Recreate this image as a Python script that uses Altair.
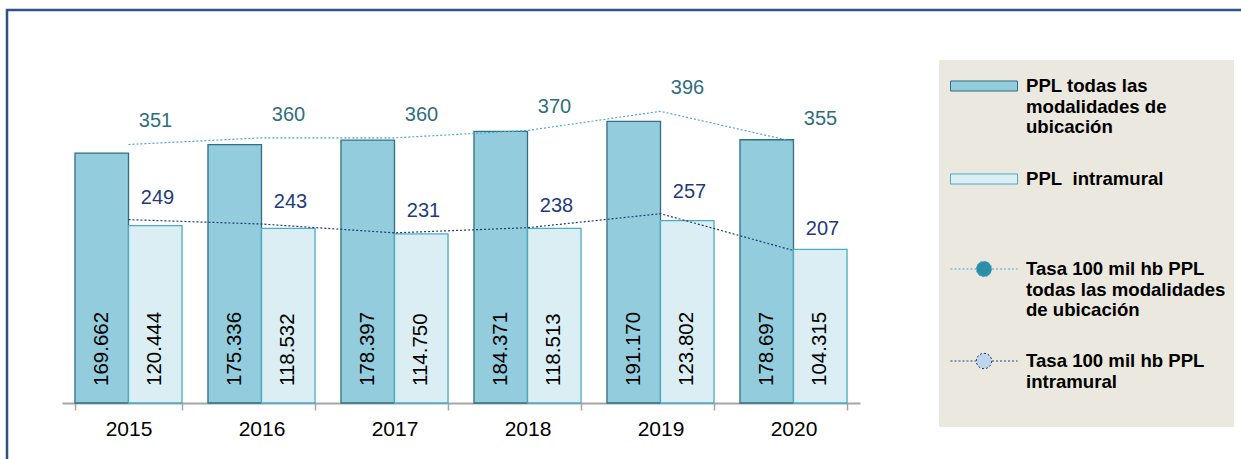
import altair as alt
import pandas as pd

# ---- data ----
anios = ["2015", "2016", "2017", "2018", "2019", "2020"]
ppl_total = [169662, 175336, 178397, 184371, 191170, 178697]
ppl_intramural = [120444, 118532, 114750, 118513, 123802, 104315]
tasa_total = [351, 360, 360, 370, 396, 355]
tasa_intramural = [249, 243, 231, 238, 257, 207]

bar_keys = ["total", "intramural"]
tasa_keys = ["tasa_total", "tasa_intramural"]

FONT = "Liberation Sans"
NB = "\u00a0"

bars_df = pd.DataFrame(
    {
        "anio": anios * 2,
        "serie": ["total"] * len(anios) + ["intramural"] * len(anios),
        "valor": ppl_total + ppl_intramural,
    }
)
tasa_df = pd.DataFrame(
    {
        "anio": anios * 2,
        "serie": ["tasa_total"] * len(anios) + ["tasa_intramural"] * len(anios),
        "tasa": tasa_total + tasa_intramural,
    }
)
one = pd.DataFrame({"k": [0]})

x_enc = alt.X(
    "anio:N",
    sort=anios,
    title=None,
    scale=alt.Scale(paddingInner=0.195, paddingOuter=0.0975),
    axis=alt.Axis(
        labelAngle=0,
        tickBand="extent",
        labelFont=FONT,
        labelFontSize=21,
        labelColor="#000000",
        labelPadding=8,
        domainColor="#A6A6A6",
        domainWidth=2,
        tickColor="#A6A6A6",
        tickWidth=1.5,
        tickSize=7,
        grid=False,
    ),
)
xoff = alt.XOffset("serie:N", sort=bar_keys, scale=alt.Scale(domain=bar_keys, paddingInner=0, paddingOuter=0))
ybar_scale = alt.Scale(domain=[0, 260000])
ytasa_scale = alt.Scale(domain=[0, 520])

bar_legend_labels = (
    "datum.value == 'total' ? ['PPL todas las', 'modalidades de', 'ubicación']"
    f" : ['PPL{NB} intramural']"
)
tasa_legend_labels = (
    "datum.value == 'tasa_total' ? ['Tasa 100 mil hb PPL', 'todas las modalidades', 'de ubicación']"
    f" : ['Tasa 100 mil hb PPL', 'intramural', '{NB}']"
)

legend_bg = alt.Chart(one).mark_rect(fill="#EBE8DF").encode(
    x=alt.value(877), x2=alt.value(1172), y=alt.value(40), y2=alt.value(407)
)

bars = alt.Chart(bars_df).mark_bar(strokeWidth=1.3).encode(
    x=x_enc,
    xOffset=xoff,
    y=alt.Y("valor:Q", scale=ybar_scale, axis=None),
    fill=alt.Fill(
        "serie:N",
        scale=alt.Scale(domain=bar_keys, range=["#93CDDD", "#DAEEF3"]),
        legend=alt.Legend(
            orient="none",
            legendX=888,
            legendY=32,
            title=None,
            padding=0,
            symbolType="M-1,-0.15H1V0.15H-1Z",
            symbolSize=4489,
            symbolStrokeWidth=1,
            symbolStrokeColor={"expr": "datum.value == 'total' ? '#31707F' : '#4BACC6'"},
            labelExpr=bar_legend_labels,
            labelFont=FONT,
            labelFontSize=18.6,
            labelFontWeight="bold",
            labelColor="#000000",
            labelLimit=400,
            labelOffset=8,
            rowPadding=8,
        ),
    ),
    stroke=alt.condition("datum.serie == 'total'", alt.value("#31707F"), alt.value("#4BACC6")),
)

bar_text = alt.Chart(bars_df).transform_calculate(
    etiqueta="replace(format(datum.valor, ','), /,/g, '.')", cero="0"
).mark_text(
    angle=270, align="left", baseline="middle", dx=17, font=FONT, fontSize=20.5, color="#000000"
).encode(
    x=x_enc,
    xOffset=xoff,
    y=alt.Y("cero:Q", scale=ybar_scale, axis=None),
    text="etiqueta:N",
)

lines = alt.Chart(tasa_df).mark_line(strokeWidth=1.2, strokeDash=[2, 2]).encode(
    x=x_enc,
    y=alt.Y("tasa:Q", scale=ytasa_scale, axis=None),
    stroke=alt.Stroke(
        "serie:N",
        scale=alt.Scale(domain=tasa_keys, range=["#4BACC6", "#1F3B7A"]),
        legend=alt.Legend(
            orient="none",
            legendX=888,
            legendY=215,
            title=None,
            padding=0,
            symbolType="M-1,0H-0.24M0.24,0H1M0.23,0A0.23,0.23,0,1,1,-0.23,0A0.23,0.23,0,1,1,0.23,0Z",
            symbolSize=4489,
            symbolStrokeWidth=1,
            symbolDash=[2, 2],
            symbolFillColor={"expr": "datum.value == 'tasa_total' ? '#2B8FAA' : '#BFD5EE'"},
            labelExpr=tasa_legend_labels,
            labelFont=FONT,
            labelFontSize=18.6,
            labelFontWeight="bold",
            labelColor="#000000",
            labelLimit=400,
            labelOffset=8,
            rowPadding=7,
        ),
    ),
    detail="serie:N",
)

tasa_text_total = alt.Chart(tasa_df).transform_filter("datum.serie == 'tasa_total'").mark_text(
    dx=27, dy=-23, font=FONT, fontSize=20, color="#2F6E7D"
).encode(x=x_enc, y=alt.Y("tasa:Q", scale=ytasa_scale, axis=None), text="tasa:Q")

tasa_text_intra = alt.Chart(tasa_df).transform_filter("datum.serie == 'tasa_intramural'").mark_text(
    dx=29, dy=-22, font=FONT, fontSize=20, color="#1F3B7A"
).encode(x=x_enc, y=alt.Y("tasa:Q", scale=ytasa_scale, axis=None), text="tasa:Q")

frame = alt.Chart(one).mark_rect(fill="#FFFFFF", fillOpacity=0, stroke="#2C5288", strokeWidth=2.5).encode(
    x=alt.value(-55), x2=alt.value(1300), y=alt.value(-10), y2=alt.value(500)
)

chart = (
    alt.layer(legend_bg, bars, bar_text, lines, tasa_text_total, tasa_text_intra, frame)
    .resolve_scale(y="independent")
    .properties(
        width=798,
        height=383,
        autosize=alt.AutoSizeParams(type="none"),
        padding={"left": 62, "top": 20, "right": 381, "bottom": 56},
        background="#FFFFFF",
    )
    .configure_view(stroke=None)
)

chart.save("out.html", embed_options={"renderer": "svg", "actions": False})
